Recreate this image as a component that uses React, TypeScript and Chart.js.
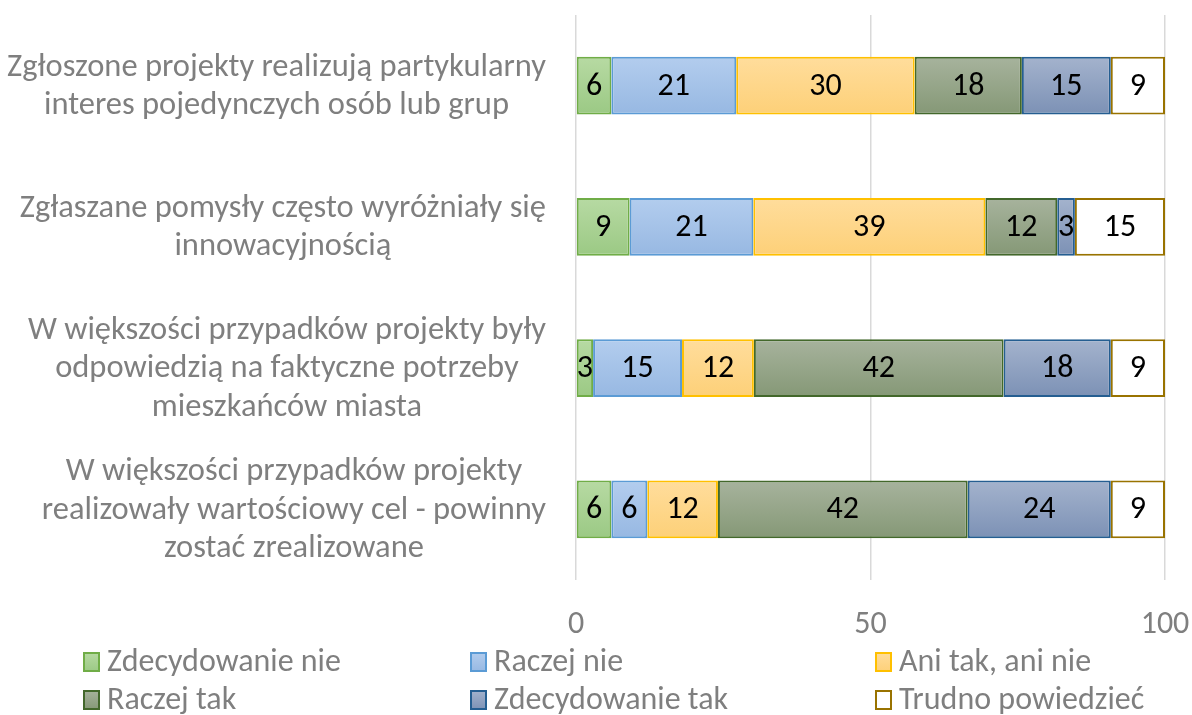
import React, { useEffect, useRef } from "react";
import { Chart, registerables } from "chart.js";
Chart.register(...registerables);

const categories: string[][] = [
  ["Zgłoszone projekty realizują partykularny", "interes pojedynczych osób lub grup"],
  ["Zgłaszane pomysły często wyróżniały się", "innowacyjnością"],
  ["W większości przypadków projekty były", "odpowiedzią na faktyczne potrzeby", "mieszkańców miasta"],
  ["W większości przypadków projekty", "realizowały wartościowy cel - powinny", "zostać zrealizowane"],
];

const seriesNames = ["Zdecydowanie nie", "Raczej nie", "Ani tak, ani nie", "Raczej tak", "Zdecydowanie tak", "Trudno powiedzieć"];

const zdecydowanieNie = [6.0, 9.1, 2.9, 6.0];
const raczejNie = [21.2, 21.0, 15.1, 6.1];
const aniTakAniNie = [30.3, 39.4, 12.2, 12.0];
const raczejTak = [18.2, 12.2, 42.4, 42.4];
const zdecydowanieTak = [15.1, 3.0, 18.2, 24.3];
const trudnoPowiedziec = [9.2, 15.3, 9.2, 9.2];

const xTicks = [0, 50, 100];

const FONT = "Carlito, Calibri, 'Liberation Sans Narrow', sans-serif";
const GRAY = "#7f7f7f";

const styles = [
  { top: "#b7daa3", bottom: "#9bc984", border: "#70ad47" },
  { top: "#b3cdee", bottom: "#97b8e2", border: "#5b9bd5" },
  { top: "#ffdd9c", bottom: "#fdd078", border: "#ffc000" },
  { top: "#a7b39d", bottom: "#859876", border: "#43682b" },
  { top: "#a4b3cd", bottom: "#7c91b5", border: "#255e91" },
  { top: "#ffffff", bottom: "#ffffff", border: "#997300" },
];

const BAR_PCT = 0.41;

function gradientFor(i: number) {
  return (ctx: any) => {
    const chart = ctx.chart;
    const y = chart.scales?.y;
    const st = styles[i];
    if (!y || ctx.dataIndex === undefined || !chart.chartArea) return st.top;
    const cy = y.getPixelForValue(ctx.dataIndex);
    const band = (chart.chartArea.bottom - chart.chartArea.top) / categories.length;
    const h = (band * BAR_PCT) / 2;
    const g = chart.ctx.createLinearGradient(0, cy - h, 0, cy + h);
    g.addColorStop(0, st.top);
    g.addColorStop(1, st.bottom);
    return g;
  };
}

const valueLabels = {
  id: "valueLabels",
  afterDatasetsDraw(chart: any) {
    const ctx = chart.ctx;
    ctx.save();
    ctx.font = `32px ${FONT}`;
    ctx.fillStyle = "#000000";
    ctx.textAlign = "center";
    ctx.textBaseline = "middle";
    chart.data.datasets.forEach((ds: any, di: number) => {
      const meta = chart.getDatasetMeta(di);
      meta.data.forEach((el: any, i: number) => {
        const v = ds.data[i];
        const cx = (el.x + el.base) / 2;
        ctx.fillText(String(Math.round(v)), cx, el.y + 1);
      });
    });
    ctx.restore();
  },
};

const yLabels = {
  id: "yLabels",
  afterDraw(chart: any) {
    const ctx = chart.ctx;
    const y = chart.scales.y;
    const right = chart.chartArea.left - 30;
    const lh = 38.5;
    ctx.save();
    ctx.font = `32.5px ${FONT}`;
    ctx.fillStyle = GRAY;
    ctx.textAlign = "center";
    ctx.textBaseline = "middle";
    categories.forEach((lines, i) => {
      const cy = y.getPixelForValue(i);
      const w = Math.max(...lines.map((l) => ctx.measureText(l).width));
      const cx = right - w / 2;
      const start = cy - ((lines.length - 1) * lh) / 2 + 1;
      lines.forEach((l, k) => ctx.fillText(l, cx, start + k * lh));
    });
    ctx.restore();
  },
};

const legendPlugin = {
  id: "customLegend",
  afterDraw(chart: any) {
    const ctx = chart.ctx;
    const cols = [83, 470, 875];
    const rows = [662, 700];
    ctx.save();
    ctx.font = `32px ${FONT}`;
    ctx.textAlign = "left";
    ctx.textBaseline = "middle";
    chart.data.datasets.forEach((ds: any, i: number) => {
      const x = cols[i % 3];
      const cy = rows[Math.floor(i / 3)];
      const st = styles[i];
      const g = ctx.createLinearGradient(0, cy - 10, 0, cy + 10);
      g.addColorStop(0, st.top);
      g.addColorStop(1, st.bottom);
      ctx.fillStyle = g;
      ctx.fillRect(x, cy - 10, 17, 20);
      ctx.strokeStyle = st.border;
      ctx.lineWidth = 2;
      ctx.strokeRect(x + 1, cy - 9, 15, 18);
      ctx.fillStyle = GRAY;
      ctx.fillText(ds.label, x + 24, cy + 1);
    });
    ctx.restore();
  },
};

export default function App() {
  const ref = useRef<HTMLCanvasElement>(null);
  useEffect(() => {
    document.body.style.margin = "0";
    const values = [zdecydowanieNie, raczejNie, aniTakAniNie, raczejTak, zdecydowanieTak, trudnoPowiedziec];
    const chart = new Chart(ref.current!, {
      type: "bar",
      data: {
        labels: categories.map((c) => c.join(" ")),
        datasets: values.map((d, i) => ({
          label: seriesNames[i],
          data: d,
          backgroundColor: gradientFor(i),
          borderColor: styles[i].border,
          borderWidth: 2,
          borderSkipped: false,
          barPercentage: BAR_PCT,
          categoryPercentage: 1,
        })),
      },
      options: {
        indexAxis: "y",
        responsive: false,
        animation: false,
        layout: { padding: { left: 0, right: 27, top: 15, bottom: 75 } },
        plugins: { legend: { display: false }, tooltip: { enabled: false } },
        scales: {
          x: {
            stacked: true,
            min: 0,
            max: 100,
            afterBuildTicks: (s: any) => {
              s.ticks = xTicks.map((v) => ({ value: v }));
            },
            grid: { color: "#d9d9d9", lineWidth: 1.5, drawTicks: false },
            border: { display: false },
            ticks: { color: GRAY, font: { family: FONT, size: 32 }, padding: 26, maxRotation: 0 },
            afterFit: (s: any) => {
              s.height = 60;
              s.paddingLeft = 0;
              s.paddingRight = 0;
            },
          },
          y: {
            stacked: true,
            grid: { display: false },
            border: { display: false },
            ticks: { display: false },
            afterFit: (s: any) => {
              s.width = 576;
              s.paddingTop = 0;
              s.paddingBottom = 0;
            },
          },
        },
      },
      plugins: [valueLabels, yLabels, legendPlugin],
    });
    return () => chart.destroy();
  }, []);
  return (
    <div style={{ width: 1192, height: 715 }}>
      <canvas ref={ref} width={1192} height={715} style={{ width: 1192, height: 715, display: "block" }} />
    </div>
  );
}
